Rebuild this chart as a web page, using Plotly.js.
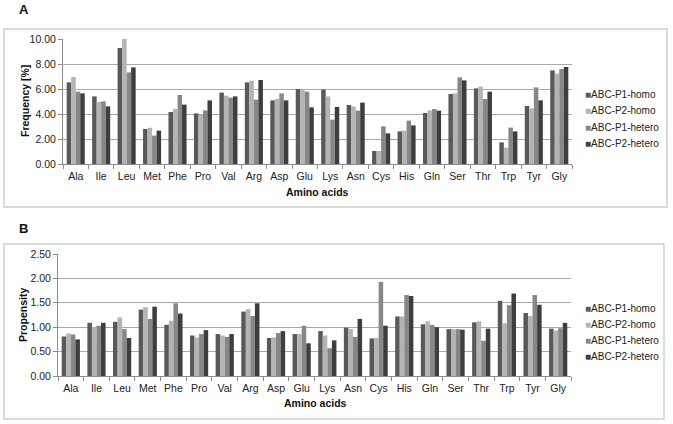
<!DOCTYPE html>
<html>
<head>
<meta charset="utf-8">
<script src="https://cdn.plot.ly/plotly-3.0.1.min.js"></script>
<style>
html,body{margin:0;padding:0;background:#fff;}
#chart{width:673px;height:424px;}
</style>
</head>
<body>
<div id="chart"></div>
<script>
const aminoAcids = ["Ala","Ile","Leu","Met","Phe","Pro","Val","Arg","Asp","Glu","Lys","Asn","Cys","His","Gln","Ser","Thr","Trp","Tyr","Gly"];
const seriesNames = ["ABC-P1-homo","ABC-P2-homo","ABC-P1-hetero","ABC-P2-hetero"];
const seriesColors = ["#595959","#b4b4b4","#878787","#3e3e3e"];
const panelLabels = ["A","B"];
const xTitle = "Amino acids";
const yTitles = ["Frequency [%]","Propensity"];

// Panel A: Frequency [%]
const freqP1homo   = [6.53,5.41,9.28,2.80,4.16,4.05,5.71,6.53,5.09,6.00,5.95,4.72,1.04,2.61,4.08,5.60,6.05,1.73,4.64,7.49];
const freqP2homo   = [6.96,4.96,10.00,2.90,4.40,3.92,5.47,6.67,5.20,5.95,5.41,4.61,1.04,2.67,4.29,5.65,6.19,1.31,4.45,7.23];
const freqP1hetero = [5.79,5.01,7.33,2.27,5.52,4.29,5.31,5.15,5.65,5.79,3.55,4.27,3.01,3.47,4.40,6.93,5.20,2.91,6.13,7.60];
const freqP2hetero = [5.65,4.61,7.73,2.67,4.75,5.09,5.41,6.72,5.09,4.53,4.56,4.91,2.45,3.09,4.27,6.69,5.79,2.61,5.09,7.76];

// Panel B: Propensity
const propP1homo   = [0.81,1.09,1.11,1.36,1.05,0.83,0.86,1.32,0.78,0.86,0.92,0.99,0.77,1.22,1.06,0.96,1.10,1.54,1.29,0.97];
const propP2homo   = [0.87,1.01,1.20,1.41,1.13,0.79,0.83,1.37,0.79,0.86,0.83,0.96,0.78,1.22,1.12,0.96,1.12,1.08,1.23,0.93];
const propP1hetero = [0.85,1.03,0.96,1.17,1.49,0.86,0.80,1.23,0.88,1.03,0.57,0.80,1.93,1.66,1.05,0.96,0.72,1.45,1.66,0.98];
const propP2hetero = [0.75,1.09,0.78,1.42,1.28,0.94,0.86,1.49,0.92,0.67,0.73,1.17,1.03,1.64,1.00,0.95,0.97,1.69,1.46,1.09];

const freqSeries = [freqP1homo,freqP2homo,freqP1hetero,freqP2hetero];
const propSeries = [propP1homo,propP2homo,propP1hetero,propP2hetero];

const W = 673, H = 424;
const fx = px => px / W;
const fy = py => 1 - py / H;

const traces = [];
freqSeries.forEach((vals,i) => {
  traces.push({type:"bar", x:aminoAcids, y:vals, name:seriesNames[i], showlegend:false,
    marker:{color:seriesColors[i], line:{width:0}}, xaxis:"x", yaxis:"y"});
});
propSeries.forEach((vals,i) => {
  traces.push({type:"bar", x:aminoAcids, y:vals, name:seriesNames[i], showlegend:false,
    marker:{color:seriesColors[i], line:{width:0}}, xaxis:"x2", yaxis:"y2"});
});

const FAM = "Liberation Sans, Arial, sans-serif";
const font = {family:FAM, size:10.5, color:"#222"};
const xCommon = {type:"category", showline:true, linecolor:"#8c8c8c", linewidth:1,
  ticks:"outside", tickson:"boundaries", ticklen:4, tickcolor:"#8c8c8c", tickangle:0,
  ticklabelstandoff:2,
  showgrid:false, tickfont:{size:10.5, color:"#222"}, fixedrange:true, automargin:false};
const yCommon = {showline:true, linecolor:"#8c8c8c", linewidth:1, ticks:"outside", ticklen:4,
  tickcolor:"#8c8c8c", showgrid:true, gridcolor:"#a9a9a9", gridwidth:1, zeroline:false,
  tickformat:".2f", tickfont:{size:10.5, color:"#222"}, fixedrange:true, automargin:false};

// legend drawn as text annotations (small square swatch + label)
function legendAnnotations(xpx, y0px, step) {
  return seriesNames.map((name,i) => ({
    text:"<span style='color:" + seriesColors[i] + "'>■</span>" + name,
    xref:"paper", yref:"paper", x:fx(xpx), y:fy(y0px + step*i),
    xanchor:"left", yanchor:"middle", showarrow:false,
    font:{family:FAM, size:10, color:"#222"}
  }));
}
function textAnn(text, xpx, ypx, opts) {
  return Object.assign({text:text, xref:"paper", yref:"paper", x:fx(xpx), y:fy(ypx),
    xanchor:"center", yanchor:"middle", showarrow:false,
    font:{family:FAM, size:10.5, color:"#111"}}, opts || {});
}

const layout = {
  width:W, height:H, margin:{l:0,r:0,t:0,b:0}, paper_bgcolor:"#fff", plot_bgcolor:"#fff",
  font:font, barmode:"group", bargap:0.29, bargroupgap:0, showlegend:false,
  xaxis:Object.assign({}, xCommon, {domain:[fx(63), fx(572)], anchor:"y"}),
  yaxis:Object.assign({}, yCommon, {domain:[fy(164), fy(39)], anchor:"x", range:[0,10], dtick:2}),
  xaxis2:Object.assign({}, xCommon, {domain:[fx(58), fx(571)], anchor:"y2"}),
  yaxis2:Object.assign({}, yCommon, {domain:[fy(376), fy(254)], anchor:"x2", range:[0,2.5], dtick:0.5}),
  shapes:[
    {type:"rect", xref:"paper", yref:"paper", x0:fx(4), x1:fx(667), y0:fy(207), y1:fy(29),
      line:{color:"#cfcfcf", width:1.5}},
    {type:"rect", xref:"paper", yref:"paper", x0:fx(4), x1:fx(664), y0:fy(419), y1:fy(244),
      line:{color:"#cfcfcf", width:1.5}}
  ],
  annotations:[
    textAnn("<b>" + panelLabels[0] + "</b>", 17, 9, {xanchor:"left", font:{family:FAM, size:13, color:"#111"}}),
    textAnn("<b>" + panelLabels[1] + "</b>", 17, 228, {xanchor:"left", font:{family:FAM, size:13, color:"#111"}}),
    textAnn("<b>" + xTitle + "</b>", 317, 192),
    textAnn("<b>" + xTitle + "</b>", 315, 403),
    textAnn("<b>" + yTitles[0] + "</b>", 25, 101, {textangle:-90}),
    textAnn("<b>" + yTitles[1] + "</b>", 23, 315, {textangle:-90})
  ].concat(legendAnnotations(583, 94, 16.5), legendAnnotations(583, 308, 16))
};

Plotly.newPlot("chart", traces, layout, {displayModeBar:false, staticPlot:true});
</script>
</body>
</html>
